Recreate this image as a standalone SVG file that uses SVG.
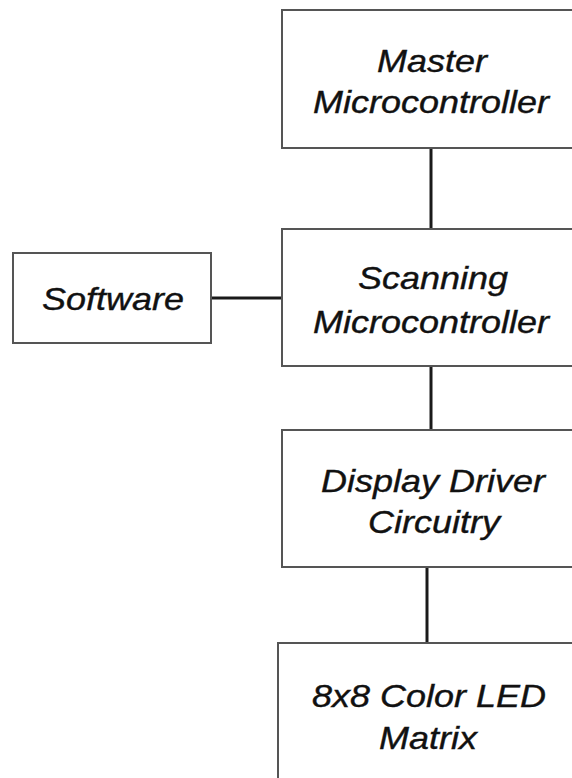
<svg xmlns="http://www.w3.org/2000/svg" width="572" height="778" viewBox="0 0 572 778">
  <style>
    .box { fill: #ffffff; stroke: #555555; stroke-width: 2; }
    .wire { stroke: #1a1a1a; stroke-width: 3; fill: none; }
    .label { font-family: "Liberation Sans", Arial, sans-serif; font-style: italic; font-size: 32px; fill: #111111; stroke: #111111; stroke-width: 0.4; text-anchor: middle; }
  </style>
  <rect width="572" height="778" fill="#ffffff"/>

  <!-- links between blocks -->
  <g id="connectors">
    <line class="wire" x1="431" y1="148" x2="431" y2="229"/>
    <line class="wire" x1="211" y1="298" x2="282" y2="298"/>
    <line class="wire" x1="431" y1="366" x2="431" y2="430"/>
    <line class="wire" x1="427" y1="567" x2="427" y2="643"/>
  </g>

  <!-- labels are set in a slightly widened italic face (x scale 1.125) -->
  <g id="master">
    <rect class="box" x="282" y="10" width="300" height="138"/>
    <text class="label" transform="translate(432 72) scale(1.125 1)">Master</text>
    <text class="label" transform="translate(431 113) scale(1.125 1)">Microcontroller</text>
  </g>

  <g id="software">
    <rect class="box" x="13" y="253" width="198" height="90"/>
    <text class="label" transform="translate(113 310) scale(1.125 1)">Software</text>
  </g>

  <g id="scanning">
    <rect class="box" x="282" y="229" width="300" height="137"/>
    <text class="label" transform="translate(433 289) scale(1.125 1)">Scanning</text>
    <text class="label" transform="translate(431 333) scale(1.125 1)">Microcontroller</text>
  </g>

  <g id="driver">
    <rect class="box" x="282" y="430" width="300" height="137"/>
    <text class="label" transform="translate(433 492) scale(1.125 1)">Display Driver</text>
    <text class="label" transform="translate(434 533) scale(1.125 1)">Circuitry</text>
  </g>

  <g id="matrix">
    <rect class="box" x="278" y="643" width="304" height="150"/>
    <text class="label" transform="translate(429 707) scale(1.125 1)">8x8 Color LED</text>
    <text class="label" transform="translate(428 749) scale(1.125 1)">Matrix</text>
  </g>
</svg>
